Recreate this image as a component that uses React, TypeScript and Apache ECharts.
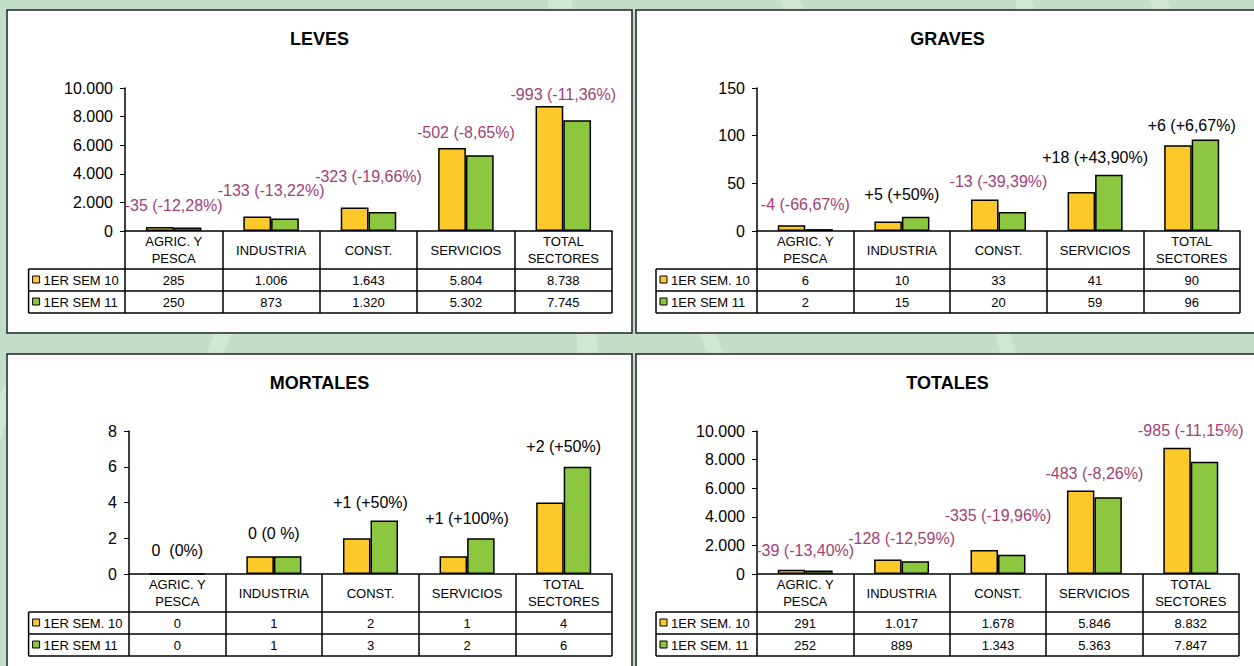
import React, { useEffect, useRef } from 'react';
import * as echarts from 'echarts';

const categories = ['AGRIC. Y\nPESCA', 'INDUSTRIA', 'CONST.', 'SERVICIOS', 'TOTAL\nSECTORES'];

const levesSem10 = [285, 1006, 1643, 5804, 8738];
const levesSem11 = [250, 873, 1320, 5302, 7745];
const levesLegend = ['1ER SEM 10', '1ER SEM 11'];
const levesChange = ['-35 (-12,28%)', '-133 (-13,22%)', '-323 (-19,66%)', '-502 (-8,65%)', '-993 (-11,36%)'];
const levesChangeY = [1750, 2820, 3800, 6870, 9580];

const gravesSem10 = [6, 10, 33, 41, 90];
const gravesSem11 = [2, 15, 20, 59, 96];
const gravesLegend = ['1ER SEM. 10', '1ER SEM 11'];
const gravesChange = ['-4 (-66,67%)', '+5 (+50%)', '-13 (-39,39%)', '+18 (+43,90%)', '+6 (+6,67%)'];
const gravesChangeY = [28, 38.5, 52.4, 77.3, 110.5];

const mortalesSem10 = [0, 1, 2, 1, 4];
const mortalesSem11 = [0, 1, 3, 2, 6];
const mortalesLegend = ['1ER SEM. 10', '1ER SEM 11'];
const mortalesChange = ['0  (0%)', '0 (0 %)', '+1 (+50%)', '+1 (+100%)', '+2 (+50%)'];
const mortalesChangeY = [1.3, 2.28, 3.99, 3.09, 7.16];

const totalesSem10 = [291, 1017, 1678, 5846, 8832];
const totalesSem11 = [252, 889, 1343, 5363, 7847];
const totalesLegend = ['1ER SEM. 10', '1ER SEM. 11'];
const totalesChange = ['-39 (-13,40%)', '-128 (-12,59%)', '-335 (-19,96%)', '-483 (-8,26%)', '-985 (-11,15%)'];
const totalesChangeY = [1620, 2490, 4110, 7000, 10050];

const FONT = '"Liberation Sans", Arial, Helvetica, sans-serif';
const YELLOW = '#FDC82A';
const GREEN = '#8DC63F';
const PURPLE = '#A23F76';
const BG = '#C2E0C9';
const STRIPE = '#CFE7D5';

const fmt = (n: number) => String(n).replace(/\B(?=(\d{3})+(?!\d))/g, '.');

const panels = [
  {
    title: 'LEVES', s10: levesSem10, s11: levesSem11, legend: levesLegend, change: levesChange, changeY: levesChangeY,
    max: 10000, interval: 2000,
    box: { x: 7, y: 10, w: 625, h: 323 }, grid: { left: 125, top: 88, width: 487, height: 143 }, legendLeft: 28.6,
  },
  {
    title: 'GRAVES', s10: gravesSem10, s11: gravesSem11, legend: gravesLegend, change: gravesChange, changeY: gravesChangeY,
    max: 150, interval: 50,
    box: { x: 636, y: 10, w: 623, h: 323 }, grid: { left: 757, top: 88, width: 483, height: 143 }, legendLeft: 656,
  },
  {
    title: 'MORTALES', s10: mortalesSem10, s11: mortalesSem11, legend: mortalesLegend, change: mortalesChange, changeY: mortalesChangeY,
    max: 8, interval: 2,
    box: { x: 7, y: 354, w: 625, h: 323 }, grid: { left: 129, top: 431, width: 483, height: 143 }, legendLeft: 28.6,
  },
  {
    title: 'TOTALES', s10: totalesSem10, s11: totalesSem11, legend: totalesLegend, change: totalesChange, changeY: totalesChangeY,
    max: 10000, interval: 2000,
    box: { x: 636, y: 354, w: 623, h: 323 }, grid: { left: 757, top: 431, width: 482, height: 143 }, legendLeft: 656,
  },
];

const HEADER_H = 38;
const ROW_H = 22;

function buildOption() {
  const grid: any[] = [];
  const xAxis: any[] = [];
  const yAxis: any[] = [];
  const series: any[] = [];
  const graphic: any[] = [];

  graphic.push({ type: 'rect', z: -20, shape: { x: 0, y: 0, width: 1254, height: 666 }, style: { fill: BG } });
  const stripes = [
    [[548, 0], [572, 0], [598, 353], [578, 353]],
    [[780, 0], [800, 0], [812, 30], [792, 30]],
    [[1015, 0], [1032, 0], [1040, 30], [1023, 30]],
    [[1150, 0], [1168, 0], [1176, 30], [1158, 30]],
    [[215, 333], [232, 333], [222, 356], [205, 356]],
    [[700, 333], [716, 333], [724, 356], [708, 356]],
    [[995, 333], [1010, 333], [1016, 356], [1001, 356]],
    [[0, 395], [7, 380], [7, 420], [0, 440]],
  ];
  stripes.forEach((pts) => graphic.push({ type: 'polygon', z: -19, shape: { points: pts }, style: { fill: STRIPE } }));

  panels.forEach((p, i) => {
    const g = p.grid;
    const bottom = g.top + g.height;
    const right = g.left + g.width;
    const hb = bottom + HEADER_H;
    const r1 = hb + ROW_H;
    const r2 = r1 + ROW_H;

    graphic.push({
      type: 'rect', z: -10,
      shape: { x: p.box.x, y: p.box.y, width: p.box.w, height: p.box.h },
      style: { fill: '#FFFFFF', stroke: '#222', lineWidth: 1.5 },
    });
    graphic.push({
      type: 'text', z: 10, x: p.box.x + p.box.w / 2, y: p.box.y + 29,
      style: { text: p.title, fill: '#000', font: `bold 18px ${FONT}`, align: 'center', textAlign: 'center', verticalAlign: 'middle', textVerticalAlign: 'middle' },
    });
    [hb, r1, r2].forEach((yy) => {
      graphic.push({ type: 'line', z: 10, shape: { x1: p.legendLeft, y1: yy, x2: right, y2: yy }, style: { stroke: '#000', lineWidth: 1.5 } });
    });
    graphic.push({ type: 'line', z: 10, shape: { x1: p.legendLeft, y1: hb, x2: p.legendLeft, y2: r2 }, style: { stroke: '#000', lineWidth: 1.5 } });
    [YELLOW, GREEN].forEach((c, k) => {
      const cy = hb + ROW_H * k + ROW_H / 2;
      graphic.push({ type: 'rect', z: 10, shape: { x: p.legendLeft + 4, y: cy - 4, width: 7, height: 7 }, style: { fill: c, stroke: '#000', lineWidth: 1 } });
      graphic.push({
        type: 'text', z: 10, x: p.legendLeft + 15, y: cy,
        style: { text: p.legend[k], fill: '#000', font: `13px ${FONT}`, align: 'left', textAlign: 'left', verticalAlign: 'middle', textVerticalAlign: 'middle' },
      });
    });

    grid.push({ left: g.left, top: g.top, width: g.width, height: g.height, containLabel: false, outerBoundsMode: 'none' });

    xAxis.push({
      type: 'category', gridIndex: i, data: categories, position: 'bottom',
      axisLine: { show: true, lineStyle: { color: '#000', width: 1.5 } },
      axisTick: { show: true, length: HEADER_H + ROW_H * 2, lineStyle: { color: '#000', width: 1.5 } },
      axisLabel: { interval: 0, margin: 19, verticalAlign: 'middle', fontSize: 13, lineHeight: 17, color: '#000', fontFamily: FONT },
      splitLine: { show: false },
    });
    [p.s10, p.s11].forEach((vals, k) => {
      xAxis.push({
        type: 'category', gridIndex: i, data: vals.map(fmt), position: 'bottom',
        offset: HEADER_H + ROW_H * k + ROW_H / 2,
        axisLine: { show: false }, axisTick: { show: false }, splitLine: { show: false },
        axisLabel: { interval: 0, margin: 0, verticalAlign: 'middle', fontSize: 13, color: '#000', fontFamily: FONT },
      });
    });

    yAxis.push({
      type: 'value', gridIndex: i, min: 0, max: p.max, interval: p.interval,
      axisLine: { show: true, lineStyle: { color: '#000', width: 1.5 } },
      axisTick: { show: true, length: 5, lineStyle: { color: '#000', width: 1 } },
      axisLabel: { formatter: (v: number) => fmt(v), fontSize: 16, margin: 12, color: '#000', fontFamily: FONT },
      splitLine: { show: false },
    });

    const xi = i * 3;
    series.push({
      type: 'bar', name: p.legend[0], xAxisIndex: xi, yAxisIndex: i, data: p.s10,
      barGap: '0%', barCategoryGap: '43%',
      itemStyle: { color: YELLOW, borderColor: '#000', borderWidth: 1.5 },
    });
    series.push({
      type: 'bar', name: p.legend[1], xAxisIndex: xi, yAxisIndex: i, data: p.s11,
      barGap: '0%', barCategoryGap: '43%',
      itemStyle: { color: GREEN, borderColor: '#000', borderWidth: 1.5 },
    });
    series.push({
      type: 'scatter', xAxisIndex: xi, yAxisIndex: i, clip: false, z: 5,
      symbolSize: 1, itemStyle: { color: 'rgba(0,0,0,0)', opacity: 1 },
      emphasis: { disabled: true },
      data: p.changeY.map((v, k) => ({ value: [k, v], label: { color: p.change[k].startsWith('-') ? PURPLE : '#000' } })),
      label: {
        show: true, position: 'inside', fontSize: 16, fontFamily: FONT, opacity: 1,
        textBorderWidth: 0,
        formatter: (prm: any) => p.change[prm.dataIndex],
      },
    });
  });

  return {
    animation: false,
    backgroundColor: BG,
    textStyle: { fontFamily: FONT },
    grid, xAxis, yAxis, series, graphic,
  };
}

export default function App() {
  const ref = useRef<HTMLDivElement>(null);
  useEffect(() => {
    const chart = echarts.init(ref.current!, null, { renderer: 'svg' });
    chart.setOption(buildOption() as any);
    return () => chart.dispose();
  }, []);
  return <div ref={ref} style={{ position: 'absolute', left: 0, top: 0, width: 1254, height: 666 }} />;
}
